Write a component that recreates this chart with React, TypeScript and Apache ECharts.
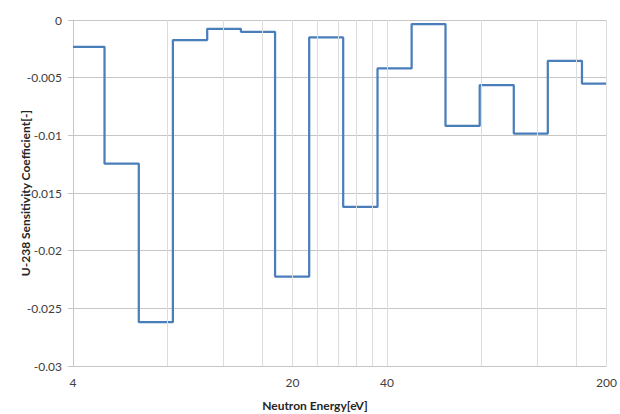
import React, { useEffect, useRef } from "react";
import * as echarts from "echarts";

// Group boundaries (eV) and sensitivity values per group
const edges = [4, 5.04, 6.48, 8.32, 10.7, 13.7, 17.6, 22.6, 29.0, 37.3, 47.9, 61.4, 78.9, 101.3, 130, 167, 200];
const values = [-0.00232, -0.01246, -0.0262, -0.00174, -0.00076, -0.00102, -0.02224, -0.00151, -0.01621, -0.0042, -0.00035, -0.00918, -0.00565, -0.00985, -0.00354, -0.00551];
const xGridValues = [8, 12, 16, 20, 24, 28, 32, 36, 40, 80, 120, 160, 200];
const xLabelValues = [4, 20, 40, 200];
const yMin = -0.03;
const yMax = 0;
const yStep = 0.005;

const FONT = "Lato, 'Open Sans', sans-serif";

export default function App() {
  const ref = useRef<HTMLDivElement>(null);

  useEffect(() => {
    if (!ref.current) return;
    const chart = echarts.init(ref.current, null, { renderer: "svg" });
    const stepData: [number, number][] = values.map((v, i) => [edges[i], v]);
    stepData.push([edges[edges.length - 1], values[values.length - 1]]);

    chart.setOption({
      animation: false,
      backgroundColor: "#ffffff",
      grid: { left: 73, right: 11, top: 20, bottom: 48, containLabel: false },
      xAxis: {
        type: "log",
        logBase: 10,
        min: 4,
        max: 200,
        axisLine: { show: true, lineStyle: { color: "#c6c6c6", width: 1 } },
        axisTick: { show: false },
        splitLine: { show: false },
        minorSplitLine: { show: false },
        axisLabel: {
          customValues: xLabelValues,
          margin: 10,
          color: "#404040",
          fontSize: 12,
          fontFamily: FONT,
          formatter: (v: number) => String(Math.round(v)),
        },
      },
      yAxis: {
        type: "value",
        min: yMin,
        max: yMax,
        interval: yStep,
        axisLine: { show: true, lineStyle: { color: "#c6c6c6", width: 1 } },
        axisTick: { show: true, length: 5, lineStyle: { color: "#c6c6c6" } },
        splitLine: { show: true, lineStyle: { color: "#c6c6c6", width: 1 } },
        axisLabel: {
          margin: 11,
          color: "#404040",
          fontSize: 12,
          fontFamily: FONT,
          formatter: (v: number) => (v === 0 ? "0" : String(parseFloat(v.toFixed(4)))),
        },
      },
      graphic: [
        {
          type: "text",
          x: 25,
          y: 193,
          rotation: Math.PI / 2,
          style: {
            text: "U-238 Sensitivity Coefficient[-]",
            fill: "#262626",
            font: `bold 12px ${FONT}`,
            align: "center",
            verticalAlign: "middle",
          },
        },
        {
          type: "text",
          x: 315,
          y: 405,
          style: {
            text: "Neutron Energy[eV]",
            fill: "#262626",
            font: `bold 12px ${FONT}`,
            align: "center",
            verticalAlign: "middle",
          },
        },
      ],
      series: [
        {
          type: "line",
          z: 1,
          data: stepData,
          symbol: "none",
          lineStyle: { width: 0, opacity: 0 },
          silent: true,
          markLine: {
            silent: true,
            symbol: "none",
            label: { show: false },
            lineStyle: { color: "#dcdcdc", width: 1, type: "solid" },
            data: xGridValues.map((v) => ({ xAxis: v })),
          },
        },
        {
          type: "line",
          z: 3,
          step: "end",
          data: stepData,
          symbol: "none",
          lineStyle: { color: "#4a7ebb", width: 2.25 },
        },
      ],
    });
    return () => chart.dispose();
  }, []);

  return (
    <div
      ref={ref}
      style={{ position: "fixed", left: 0, top: 0, width: 620, height: 414 }}
    />
  );
}
